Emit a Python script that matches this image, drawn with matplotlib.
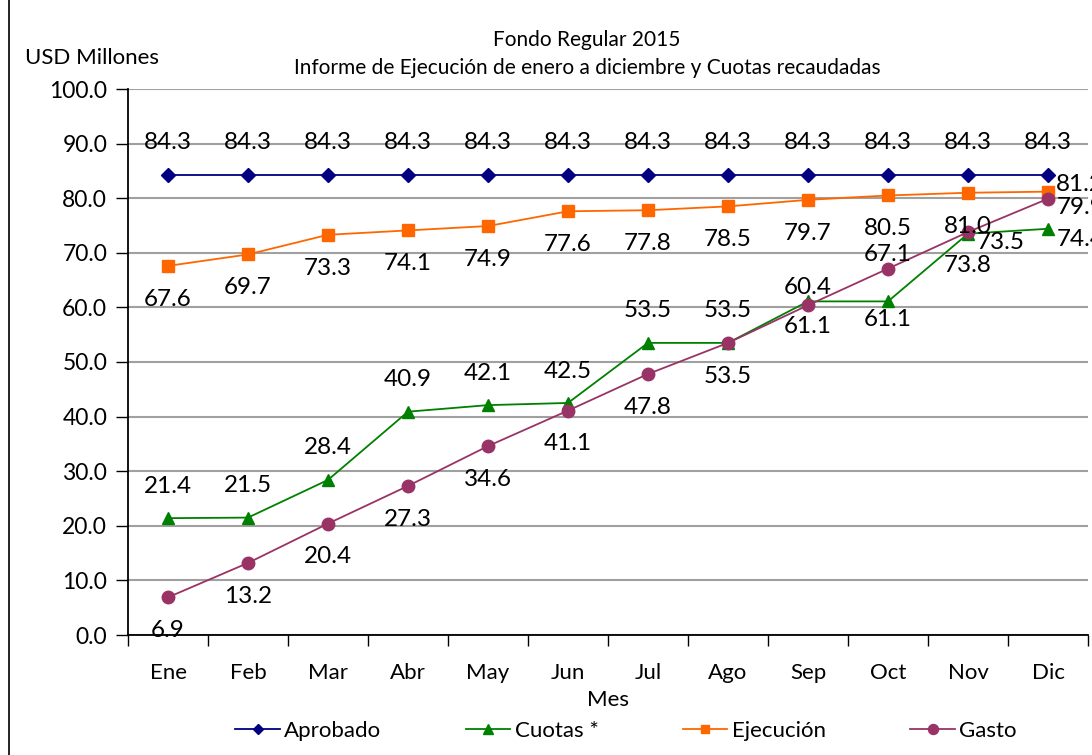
import matplotlib.pyplot as plt
from matplotlib.lines import Line2D
import numpy as np

# datos (USD millones)
meses = ['Ene', 'Feb', 'Mar', 'Abr', 'May', 'Jun', 'Jul', 'Ago', 'Sep', 'Oct', 'Nov', 'Dic']
aprobado = [84.3] * 12
cuotas = [21.4, 21.5, 28.4, 40.9, 42.1, 42.5, 53.5, 53.5, 61.1, 61.1, 73.5, 74.4]
ejecucion = [67.6, 69.7, 73.3, 74.1, 74.9, 77.6, 77.8, 78.5, 79.7, 80.5, 81.0, 81.2]
gasto = [6.9, 13.2, 20.4, 27.3, 34.6, 41.1, 47.8, 53.5, 60.4, 67.1, 73.8, 79.9]

# desplazamiento de cada etiqueta (puntos) respecto al marcador
off_aprobado = [(0, 23)] * 12
off_cuotas = [(0, 23)] * 8 + [(0, -18), (0, -13), (6, -6), (6, -8)]
off_ejecucion = [(0, -24)] * 11 + [(6, 5)]
off_gasto = [(0, -24)] * 8 + [(0, 13), (0, 10), (0, -24), (6, -6)]

plt.rcParams['font.family'] = ['Lato', 'DejaVu Sans']

fig = plt.figure(figsize=(10.92, 7.55), dpi=100)
ax = fig.add_axes([128 / 1092, 1 - 635 / 755, 960 / 1092, (635 - 89) / 755])

x = np.arange(len(meses))
series = [
    ('Aprobado', aprobado, '#000080', 'D', 7, off_aprobado),
    ('Cuotas *', cuotas, '#008000', '^', 9, off_cuotas),
    ('Ejecución', ejecucion, '#FF6600', 's', 8, off_ejecucion),
    ('Gasto', gasto, '#993366', 'o', 9, off_gasto),
]

for nombre, vals, color, mk, ms, offs in series:
    ax.plot(x, vals, color=color, marker=mk, markersize=ms, lw=1.3, label=nombre,
            clip_on=False, zorder=3)
    for xi, v, off in zip(x, vals, offs):
        ha = 'left' if off[0] > 0 else 'center'
        ax.annotate(f'{v:.1f}', (xi, v), xytext=off, textcoords='offset points',
                    ha=ha, va='center', fontsize=17.5, color='black', zorder=4)

ax.set_xlim(-0.5, 11.5)
ax.set_ylim(0, 100)
ax.set_yticks(np.arange(0, 101, 10))
ax.set_yticklabels([f'{t:.1f}' for t in np.arange(0, 101, 10)], fontsize=16.5)
ax.set_xticks(x)
ax.set_xticklabels(meses, fontsize=16)
ax.set_xticks(np.arange(-0.5, 12, 1), minor=True)
ax.tick_params(axis='x', which='major', length=0, pad=20)
ax.tick_params(axis='x', which='minor', length=8, direction='out', width=1)
ax.tick_params(axis='y', length=9, width=1, direction='out', pad=6)
ax.grid(axis='y', color='#A0A0A0', lw=1.5)
ax.set_axisbelow(True)
for s in ['top', 'right']:
    ax.spines[s].set_visible(False)
for s in ['left', 'bottom']:
    ax.spines[s].set_linewidth(1.3)

ax.set_xlabel('Mes', fontsize=16, labelpad=5)
fig.text(25 / 1092, 1 - 58 / 755, 'USD Millones', fontsize=16, ha='left', va='center')
fig.text(587 / 1092, 1 - 40 / 755, 'Fondo Regular 2015', fontsize=15, ha='center', va='center')
fig.text(587 / 1092, 1 - 68 / 755, 'Informe de Ejecución de enero a diciembre y Cuotas recaudadas',
         fontsize=15, ha='center', va='center')

fig.legend(loc='center', bbox_to_anchor=(626 / 1092, 1 - 731 / 755), ncol=4, frameon=False,
           fontsize=16, handlelength=2, columnspacing=3.8, handletextpad=0.2, markerscale=0.8)

fig.add_artist(Line2D([9 / 1092, 9 / 1092], [0, 1], color='black', lw=1.2))

fig.savefig('out.png', dpi=100)
